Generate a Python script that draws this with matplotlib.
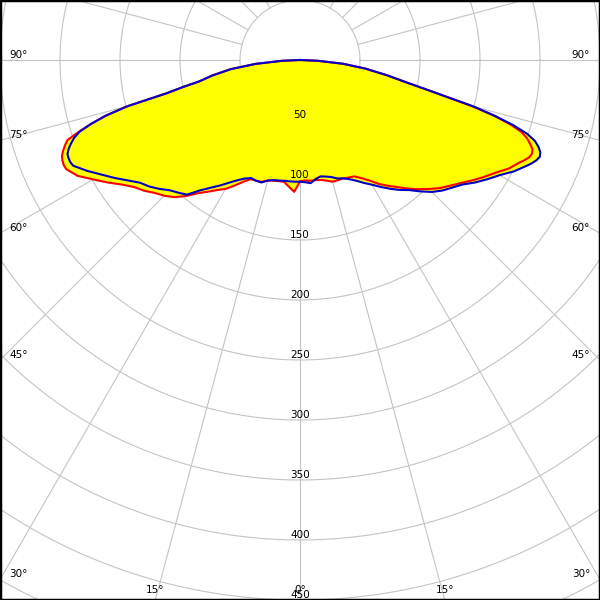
import numpy as np
import matplotlib
matplotlib.use("Agg")
import matplotlib.pyplot as plt

# gamma angles (deg), 0 = straight down, negative = left half
angles = ([-90, -87.5, -85, -82.5, -80, -78, -77, -76, -75, -74, -73, -72, -71, -70,
           -69, -68, -67, -66, -65]
          + list(np.arange(-62.5, 62.51, 2.5))
          + [65, 66, 67, 68, 69, 70, 71, 72, 73, 74, 75, 76, 77, 78, 80, 82.5, 85, 87.5, 90])

red_cd = ([0, 15, 37, 58, 74, 86, 100, 114.5, 149, 168.5, 182, 194, 205, 208.5,
           211.5, 214, 215, 215.5, 215]
          + [209, 199, 190, 181, 174, 169.5, 164, 160, 155, 148, 140, 134, 128.5, 124,
             118, 112, 107.5, 107, 106.5, 104, 103, 102.5, 102.4, 106, 110, 101,
             100.5, 101, 101, 101.5, 103, 105, 105, 105, 106, 107, 111, 116, 122.5,
             128, 133.5, 140, 146, 152, 158, 163, 168.5, 175, 181.5, 188, 196]
          + [202, 205, 207.5, 208.5, 207.5, 204, 200, 194, 183, 168, 148, 124, 106, 92,
             74, 55, 36, 15, 0])

blue_cd = ([0, 15, 37, 58, 74, 86, 100, 114.5, 149, 168.5, 182, 193, 199, 203,
            206.5, 209, 209.5, 209.5, 208.5]
           + [200, 191, 183, 175, 168, 164, 159, 153.5, 150, 146.5, 137, 130, 124, 118,
              113, 109, 106.5, 107, 107, 104, 102.5, 102, 101.5, 101.5, 101.5, 101.4,
              102, 103, 100, 98.5, 99.5, 101, 103.5, 105, 107.5, 111, 115.5, 120, 125.5,
              131, 136.5, 141.5, 148.5, 155.5, 161, 165.5, 170.5, 178, 185, 192, 201]
           + [208.5, 211.5, 214, 215.5, 214.5, 211.5, 207, 199, 186, 169, 150, 124, 106,
              92, 74, 55, 36, 15, 0])

ring_values = [50, 100, 150, 200, 250, 300, 350, 400, 450]
angle_labels = [90, 75, 60, 45, 30]
bottom_labels = [-15, 0, 15]

fig = plt.figure(figsize=(6, 6), dpi=100)
ax = fig.add_axes([0, 0, 1, 1])
ax.set_xlim(-250, 250)
ax.set_ylim(-450, 50)
ax.set_aspect('equal')
ax.set_xticks([])
ax.set_yticks([])
for s in ax.spines.values():
    s.set_color('black')
    s.set_linewidth(2.5)

grid_c = '#c4c4c4'
t = np.linspace(0, 2 * np.pi, 721)
for r in range(50, 601, 50):
    ax.plot(r * np.cos(t), r * np.sin(t), color=grid_c, lw=0.8, zorder=1)
for k in range(24):
    a = np.radians(k * 15)
    ax.plot([50 * np.sin(a), 800 * np.sin(a)], [-50 * np.cos(a), -800 * np.cos(a)],
            color=grid_c, lw=0.8, zorder=1)

def xy(vals):
    g = np.radians(np.asarray(angles, dtype=float))
    v = np.asarray(vals, dtype=float)
    return v * np.sin(g), -v * np.cos(g)

rx, ry = xy(red_cd)
bx, by = xy(blue_cd)
ax.fill(rx, ry, color='#ffff00', lw=0, zorder=2)
ax.fill(bx, by, color='#ffff00', lw=0, zorder=2)
ax.plot(rx, ry, color='#ff0000', lw=1.5, zorder=3, solid_joinstyle='round')
ax.plot(bx, by, color='#0000c8', lw=1.5, zorder=4, solid_joinstyle='round')

fs = 7.5
for a in angle_labels:
    yb = -250 / np.tan(np.radians(a)) if a != 90 else 0.0
    ax.text(-242.5, yb + 2, f"{a}°", ha='left', va='baseline', fontsize=fs, zorder=5)
    ax.text(241.7, yb + 2, f"{a}°", ha='right', va='baseline', fontsize=fs, zorder=5)
for a in bottom_labels:
    xb = 450 * np.tan(np.radians(a))
    ax.text(xb, -444.2, f"{abs(a)}°", ha='center', va='baseline', fontsize=fs, zorder=5)
for r in ring_values:
    ax.text(0, -r + 1.5, f"{r}", ha='center', va='baseline', fontsize=fs, zorder=5)

fig.savefig("out.png", dpi=100)
